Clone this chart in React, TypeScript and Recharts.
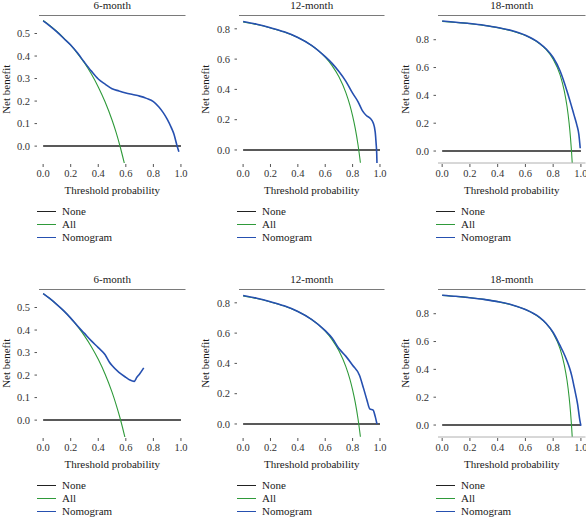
import React from 'react';
import { LineChart, Line, XAxis, YAxis, Legend } from 'recharts';

type Pt = [number, number];

const FONT = 'Liberation Serif';

const seriesNames = ['None', 'All', 'Nomogram'];
const seriesColors = ['#222222', '#2f9a3a', '#2650b0'];
const seriesWidths = [1.5, 1.1, 1.6];

const xTicks = [0, 0.2, 0.4, 0.6, 0.8, 1.0];
const yTicks6 = [0, 0.1, 0.2, 0.3, 0.4, 0.5];
const yTicks12 = [0, 0.2, 0.4, 0.6, 0.8];
const yTicks18 = [0, 0.2, 0.4, 0.6, 0.8];
const titles = ['6-month', '12-month', '18-month', '6-month', '12-month', '18-month'];

const noneLine: Pt[] = [[0, 0], [1, 0]];

const all6Top: Pt[] = [[0, 0.558], [0.05, 0.535], [0.1, 0.509], [0.15, 0.48], [0.2, 0.448], [0.25, 0.411], [0.3, 0.369], [0.35, 0.32], [0.4, 0.263], [0.45, 0.196], [0.5, 0.116], [0.53, 0.06], [0.56, -0.005], [0.59, -0.078]];
const nomo6Top: Pt[] = [[0, 0.556], [0.05, 0.533], [0.1, 0.507], [0.15, 0.478], [0.2, 0.449], [0.25, 0.413], [0.3, 0.372], [0.35, 0.333], [0.4, 0.298], [0.45, 0.275], [0.5, 0.255], [0.55, 0.245], [0.6, 0.236], [0.65, 0.229], [0.7, 0.222], [0.75, 0.212], [0.8, 0.198], [0.84, 0.174], [0.87, 0.15], [0.9, 0.12], [0.93, 0.082], [0.95, 0.052], [0.97, 0.005], [0.985, -0.025]];

const all12Top: Pt[] = [[0, 0.845], [0.1, 0.828], [0.2, 0.806], [0.3, 0.779], [0.4, 0.742], [0.5, 0.69], [0.55, 0.656], [0.6, 0.613], [0.65, 0.557], [0.7, 0.483], [0.75, 0.38], [0.78, 0.296], [0.8, 0.225], [0.82, 0.139], [0.84, 0.031], [0.857, -0.084]];
const nomo12Top: Pt[] = [[0, 0.848], [0.1, 0.83], [0.2, 0.807], [0.3, 0.78], [0.4, 0.743], [0.5, 0.691], [0.6, 0.616], [0.65, 0.572], [0.7, 0.518], [0.75, 0.455], [0.8, 0.375], [0.84, 0.318], [0.87, 0.262], [0.9, 0.228], [0.93, 0.208], [0.95, 0.18], [0.965, 0.12], [0.972, 0.04], [0.976, -0.02], [0.978, -0.086]];

const all18Top: Pt[] = [[0, 0.932], [0.1, 0.924], [0.2, 0.915], [0.3, 0.903], [0.4, 0.887], [0.5, 0.864], [0.6, 0.83], [0.7, 0.773], [0.75, 0.728], [0.8, 0.66], [0.85, 0.547], [0.88, 0.433], [0.9, 0.32], [0.915, 0.2], [0.925, 0.093], [0.932, 0.0], [0.938, -0.097]];
const nomo18Top: Pt[] = [[0, 0.935], [0.1, 0.926], [0.2, 0.916], [0.3, 0.904], [0.4, 0.888], [0.5, 0.866], [0.6, 0.832], [0.7, 0.776], [0.75, 0.733], [0.8, 0.672], [0.85, 0.575], [0.9, 0.43], [0.93, 0.33], [0.95, 0.26], [0.97, 0.19], [0.985, 0.12], [0.995, 0.02]];

const all6Bot: Pt[] = [[0, 0.562], [0.05, 0.539], [0.1, 0.513], [0.15, 0.485], [0.2, 0.453], [0.25, 0.416], [0.3, 0.374], [0.35, 0.326], [0.4, 0.27], [0.45, 0.204], [0.5, 0.124], [0.53, 0.068], [0.56, 0.005], [0.595, -0.08]];
const nomo6Bot: Pt[] = [[0, 0.562], [0.05, 0.539], [0.1, 0.513], [0.15, 0.485], [0.2, 0.453], [0.25, 0.418], [0.3, 0.385], [0.35, 0.352], [0.4, 0.322], [0.45, 0.29], [0.48, 0.258], [0.5, 0.242], [0.55, 0.212], [0.6, 0.19], [0.63, 0.178], [0.66, 0.172], [0.68, 0.19], [0.7, 0.205], [0.73, 0.232]];

const all12Bot: Pt[] = [[0, 0.845], [0.1, 0.828], [0.2, 0.806], [0.3, 0.779], [0.4, 0.742], [0.5, 0.69], [0.55, 0.656], [0.6, 0.613], [0.65, 0.557], [0.7, 0.483], [0.75, 0.38], [0.78, 0.296], [0.8, 0.225], [0.82, 0.139], [0.84, 0.031], [0.857, -0.084]];
const nomo12Bot: Pt[] = [[0, 0.848], [0.1, 0.83], [0.2, 0.807], [0.3, 0.78], [0.4, 0.743], [0.5, 0.691], [0.6, 0.616], [0.65, 0.568], [0.7, 0.498], [0.75, 0.448], [0.8, 0.388], [0.85, 0.322], [0.88, 0.235], [0.905, 0.157], [0.925, 0.1], [0.95, 0.092], [0.965, 0.05], [0.978, 0.0]];

const all18Bot: Pt[] = [[0, 0.932], [0.1, 0.924], [0.2, 0.915], [0.3, 0.903], [0.4, 0.887], [0.5, 0.864], [0.6, 0.83], [0.7, 0.773], [0.75, 0.728], [0.8, 0.66], [0.85, 0.547], [0.88, 0.433], [0.9, 0.32], [0.915, 0.2], [0.925, 0.093], [0.932, 0.0], [0.938, -0.097]];
const nomo18Bot: Pt[] = [[0, 0.933], [0.1, 0.925], [0.2, 0.915], [0.3, 0.903], [0.4, 0.887], [0.5, 0.865], [0.6, 0.83], [0.7, 0.775], [0.75, 0.73], [0.8, 0.665], [0.85, 0.57], [0.87, 0.53], [0.9, 0.46], [0.917, 0.413], [0.935, 0.35], [0.952, 0.27], [0.976, 0.15], [0.993, 0.03], [1.0, -0.005]];

const toRows = (pts: Pt[]) => pts.map(([t, v]) => ({ t, v }));

const X_DOMAIN: [number, number] = [-0.03, 1.033];
const Y_DOMAINS: [number, number][] = [[-0.075, 0.58], [-0.086, 0.888], [-0.086, 0.974]];
const Y_TICKS = [yTicks6, yTicks12, yTicks18];

const COL_LEFT = [0, 195, 390];
const ROW_TOP = [0, 274];
const Y_WIDTH = [39, 44, 48];
const MARGIN_RIGHT = [10.5, 6.5, 0.5];
const YLABEL_OFFSET = [6, 10, 15];
const CHART_W = 196;
const CHART_H = 245;

const YTick = (props: any) => {
  const { x, y, payload } = props;
  return (
    <g>
      <line x1={x - 4.5} x2={x - 2} y1={y} y2={y} stroke="#555" strokeWidth={1} />
      <text x={x - 9} y={y} dy="0.35em" textAnchor="end" fontSize={10.5} fill="#333" fontFamily={FONT}>
        {Number(payload.value).toFixed(1)}
      </text>
    </g>
  );
};

const XTick = (props: any) => {
  const { x, y, payload } = props;
  return (
    <g>
      <line x1={x} x2={x} y1={y + 1} y2={y + 4} stroke="#555" strokeWidth={1} />
      <text x={x} y={y + 14} textAnchor="middle" fontSize={10.5} fill="#333" fontFamily={FONT}>
        {Number(payload.value).toFixed(1)}
      </text>
    </g>
  );
};

const renderLegend = (props: any) => {
  const payload = [...(props.payload || [])].sort(
    (a: any, b: any) => seriesNames.indexOf(a.value) - seriesNames.indexOf(b.value)
  );
  return (
    <div style={{ height: 44, paddingTop: 8, boxSizing: 'border-box', fontFamily: FONT, fontSize: 11, color: '#1a1a1a' }}>
      {payload.map((item: any, i: number) => (
        <div key={i} style={{ display: 'flex', alignItems: 'center', height: 13, lineHeight: '13px' }}>
          <span style={{ display: 'inline-block', width: 19, height: 0, borderTop: `1.3px solid ${item.color}`, marginRight: 6 }} />
          <span>{item.value}</span>
        </div>
      ))}
    </div>
  );
};

type PanelProps = { idx: number; all: Pt[]; nomo: Pt[] };

function Panel({ idx, all, nomo }: PanelProps) {
  const col = idx % 3;
  const row = Math.floor(idx / 3);
  const yw = Y_WIDTH[col];
  const lines: Pt[][] = [noneLine, all, nomo];
  return (
    <div style={{ position: 'absolute', left: COL_LEFT[col], top: ROW_TOP[row] }}>
      <LineChart width={CHART_W} height={CHART_H} margin={{ top: 0, right: MARGIN_RIGHT[col], bottom: 4, left: 0 }}>
        <XAxis
          xAxisId="top"
          orientation="top"
          type="number"
          domain={[0, 1]}
          height={15.5}
          tick={false}
          tickLine={false}
          axisLine={{ stroke: '#7a7a7a' }}
          label={{ value: titles[idx], position: 'insideTop', offset: 1, fill: '#1a1a1a', fontSize: 11, fontFamily: FONT }}
        />
        <XAxis
          dataKey="t"
          type="number"
          domain={X_DOMAIN}
          allowDataOverflow
          ticks={xTicks}
          interval={0}
          height={34}
          axisLine={col === 2 ? { stroke: '#b0b0b0' } : false}
          tickLine={false}
          tickSize={0}
          tickMargin={0}
          tick={(p: any) => <XTick {...p} />}
          label={{ value: 'Threshold probability', position: 'insideBottom', offset: 3, fill: '#1a1a1a', fontSize: 11, fontFamily: FONT }}
        />
        <YAxis
          type="number"
          domain={Y_DOMAINS[col]}
          allowDataOverflow
          ticks={Y_TICKS[col]}
          interval={0}
          width={yw}
          axisLine={false}
          tickLine={false}
          tickSize={0}
          tickMargin={0}
          tick={(p: any) => <YTick {...p} />}
          label={{ value: 'Net benefit', angle: -90, position: 'insideLeft', offset: YLABEL_OFFSET[col], style: { textAnchor: 'middle' }, fill: '#1a1a1a', fontSize: 11, fontFamily: FONT }}
        />
        <YAxis
          yAxisId="r"
          orientation="right"
          type="number"
          domain={[0, 1]}
          width={0}
          tick={false}
          tickLine={false}
          axisLine={{ stroke: '#7a7a7a' }}
        />
        <Legend
          verticalAlign="bottom"
          align="left"
          layout="horizontal"
          content={renderLegend}
          wrapperStyle={{ left: yw - 2, width: 120, height: 44 }}
        />
        {lines.map((pts, i) => (
          <Line
            key={seriesNames[i]}
            data={toRows(pts)}
            dataKey="v"
            name={seriesNames[i]}
            stroke={seriesColors[i]}
            strokeWidth={seriesWidths[i]}
            dot={false}
            activeDot={false}
            type={i === 0 ? 'linear' : 'monotone'}
            isAnimationActive={false}
          />
        ))}
      </LineChart>
    </div>
  );
}

export default function App() {
  const panels: { all: Pt[]; nomo: Pt[] }[] = [
    { all: all6Top, nomo: nomo6Top },
    { all: all12Top, nomo: nomo12Top },
    { all: all18Top, nomo: nomo18Top },
    { all: all6Bot, nomo: nomo6Bot },
    { all: all12Bot, nomo: nomo12Bot },
    { all: all18Bot, nomo: nomo18Bot },
  ];
  return (
    <div style={{ position: 'absolute', left: 0, top: 0, width: 586, height: 517, overflow: 'hidden', background: '#fff', fontFamily: FONT }}>
      {panels.map((p, i) => (
        <Panel key={i} idx={i} all={p.all} nomo={p.nomo} />
      ))}
    </div>
  );
}
